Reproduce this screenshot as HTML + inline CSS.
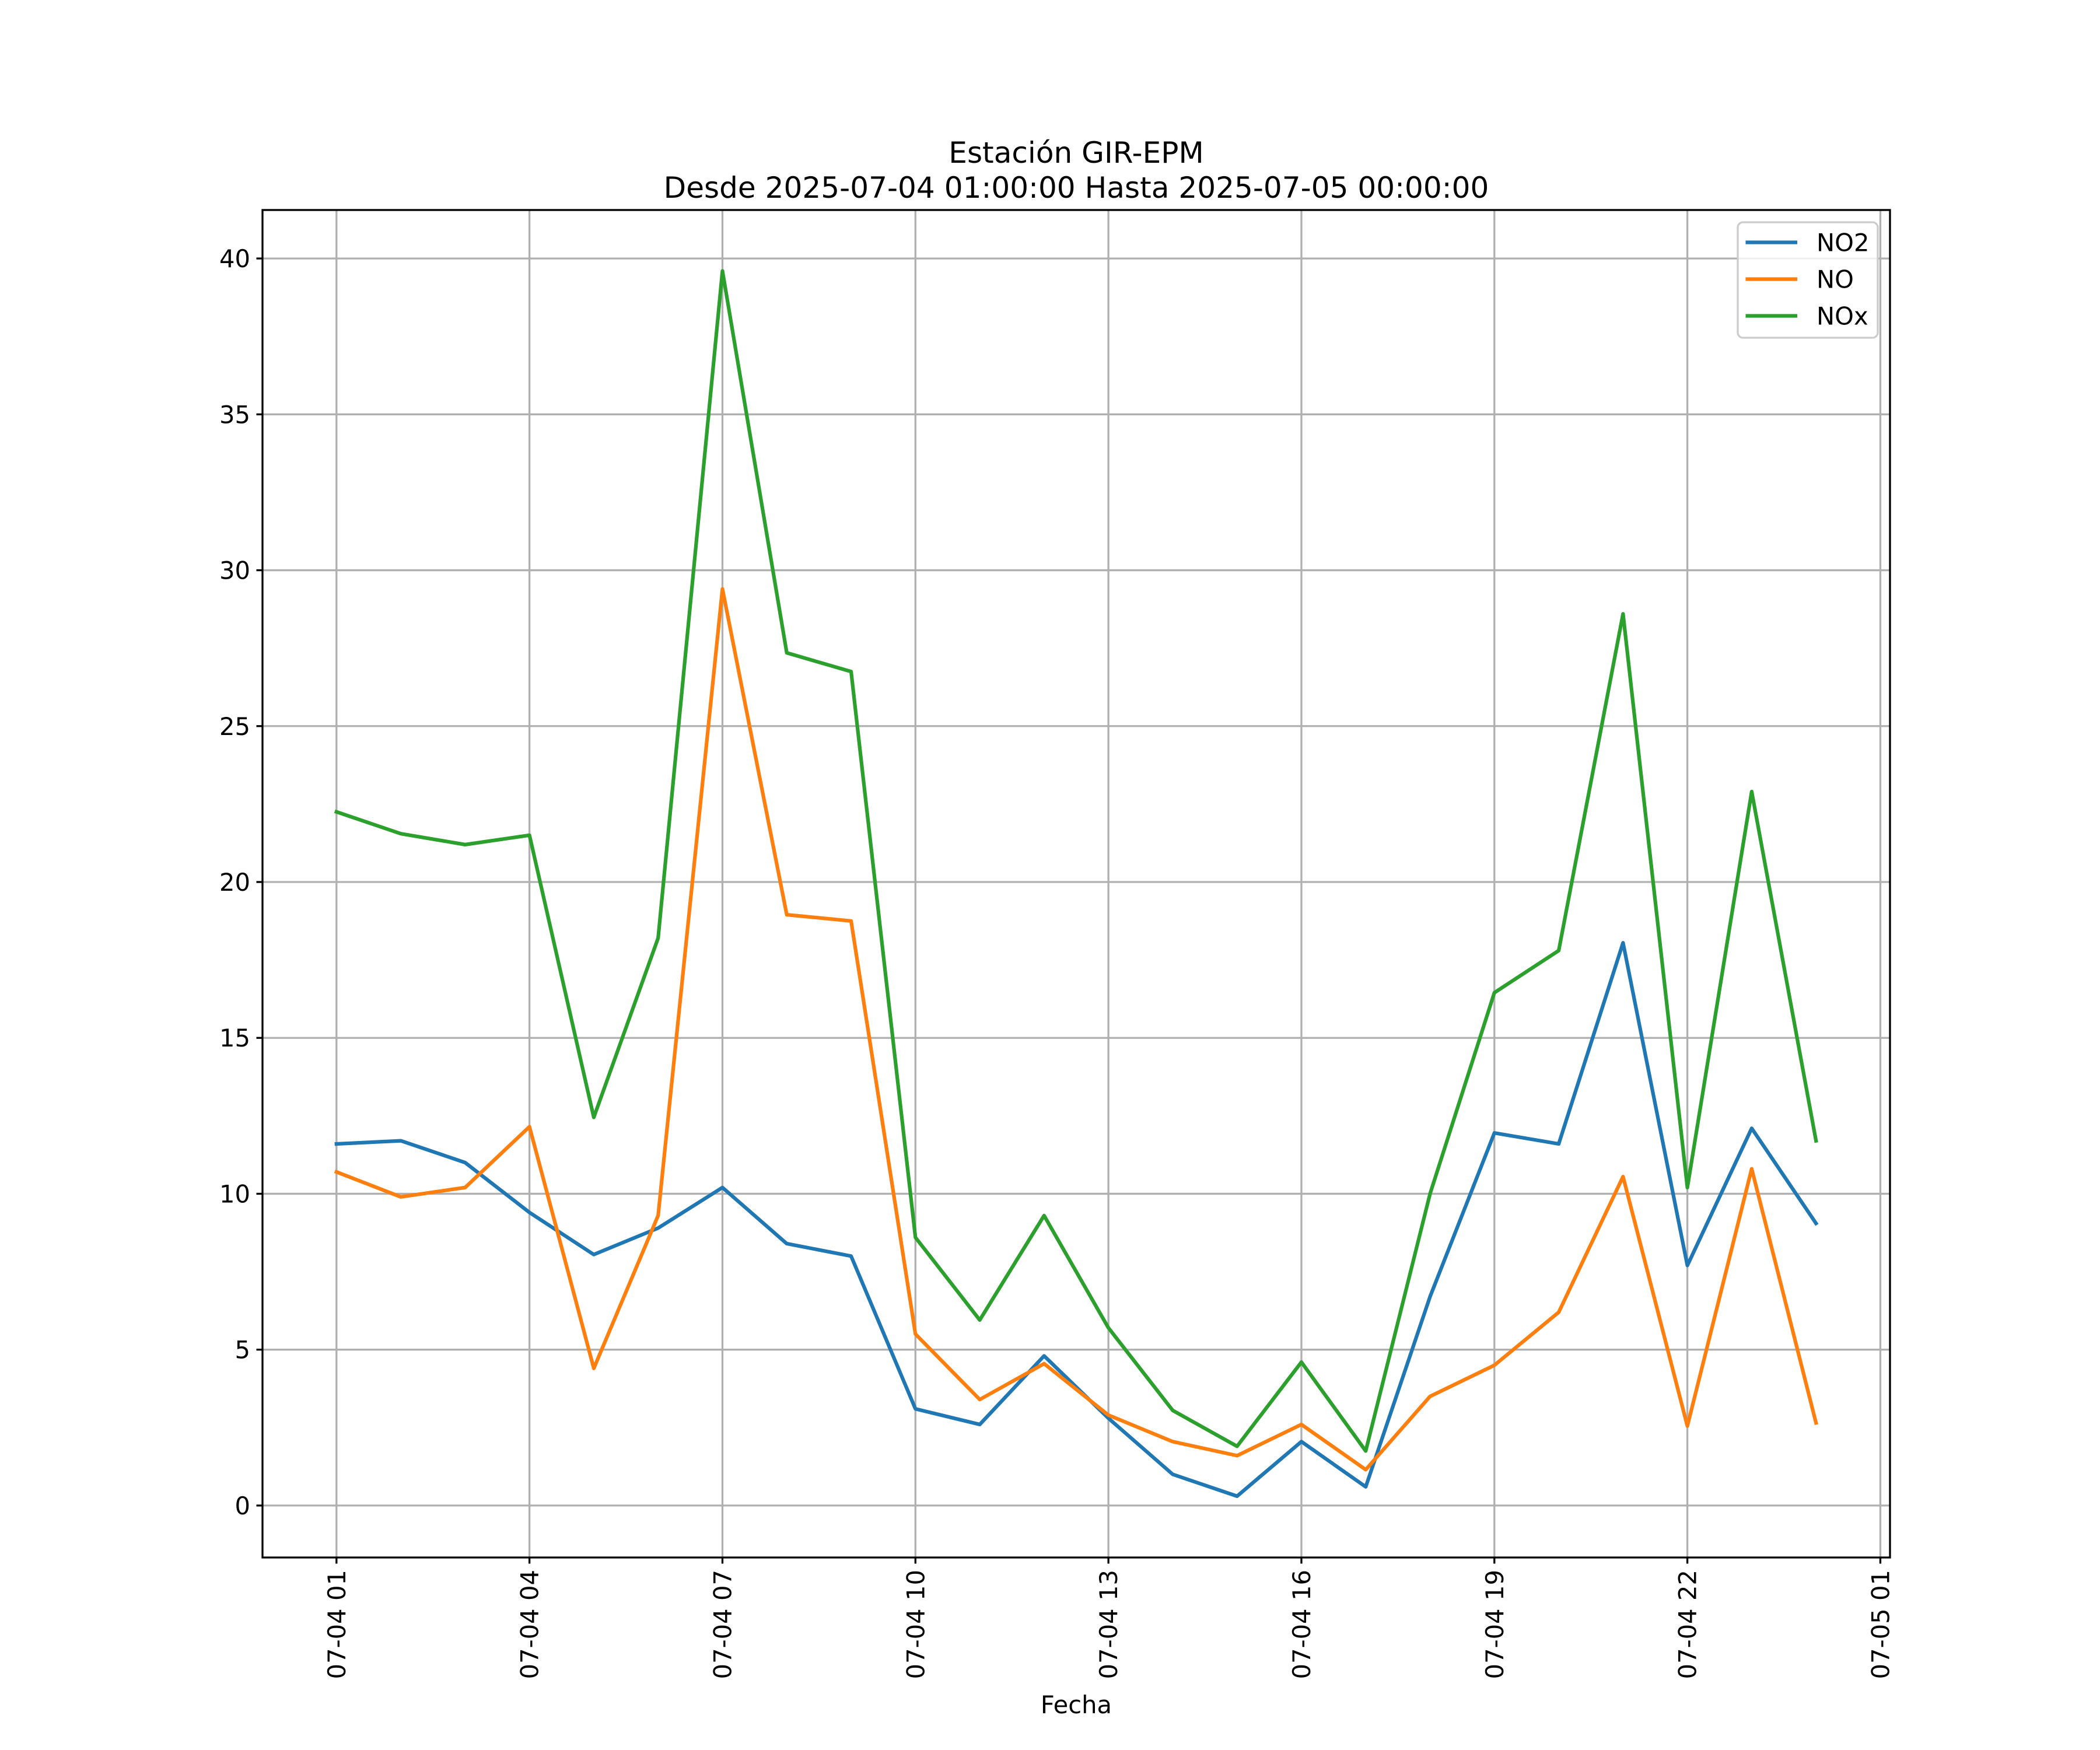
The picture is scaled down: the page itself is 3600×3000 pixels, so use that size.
<!DOCTYPE html>
<html><head><meta charset="utf-8"><style>html,body{margin:0;padding:0;background:#fff}svg{display:block}text{font-family:"DejaVu Sans","Liberation Sans",sans-serif;fill:#000}</style></head>
<body>
<svg id="chart" width="3600" height="3000" viewBox="0 0 1200 1000" xmlns="http://www.w3.org/2000/svg">
<rect width="1200" height="1000" fill="#fff"/>
<g id="grid"></g>
<g id="series"></g>
<rect x="150" y="120" width="930" height="770" fill="none" stroke="#000" stroke-width="1.1"/>
<g id="ticks"></g>
<text x="615" y="93" font-size="16.7" text-anchor="middle">Estación GIR-EPM</text>
<text x="615" y="113" font-size="16.7" text-anchor="middle">Desde 2025-07-04 01:00:00 Hasta 2025-07-05 00:00:00</text>
<text x="615" y="979" font-size="13.9" text-anchor="middle">Fecha</text>
<g>
<rect x="993" y="127" width="80" height="66" rx="3" fill="#fff" fill-opacity="0.8" stroke="#ccc" stroke-width="1.1"/>
<g><line x1="997.5" y1="138.5" x2="1027" y2="138.5" stroke="#1f77b4" stroke-width="2.08"/><text x="1038" y="143.5" font-size="13.9">NO2</text></g>
<g><line x1="997.5" y1="159.5" x2="1027" y2="159.5" stroke="#ff7f0e" stroke-width="2.08"/><text x="1038" y="164.5" font-size="13.9">NO</text></g>
<g><line x1="997.5" y1="180.5" x2="1027" y2="180.5" stroke="#2ca02c" stroke-width="2.08"/><text x="1038" y="185.5" font-size="13.9">NOx</text></g>
</g>
</svg>
<script>
const hours=[1,2,3,4,5,6,7,8,9,10,11,12,13,14,15,16,17,18,19,20,21,22,23,24];
const no2=[11.6,11.7,11.0,9.4,8.05,8.9,10.2,8.4,8.0,3.1,2.6,4.8,2.8,1.0,0.3,2.05,0.6,6.7,11.95,11.6,18.05,7.7,12.1,9.05];
const no=[10.7,9.9,10.2,12.15,4.4,9.3,29.4,18.95,18.75,5.5,3.4,4.55,2.9,2.05,1.6,2.6,1.15,3.5,4.5,6.2,10.55,2.55,10.8,2.65];
const nox=[22.25,21.55,21.2,21.5,12.45,18.2,39.6,27.35,26.75,8.6,5.95,9.3,5.7,3.05,1.9,4.6,1.75,10.0,16.45,17.8,28.6,10.2,22.9,11.7];
const yTicks=[0,5,10,15,20,25,30,35,40];
const xTicks=[1,4,7,10,13,16,19,22,25];
const xTickLabels=["07-04 01","07-04 04","07-04 07","07-04 10","07-04 13","07-04 16","07-04 19","07-04 22","07-05 01"];

const NS="http://www.w3.org/2000/svg";
const xmin=1-1.15, xmax=24+1.15;
function X(h){return 150+(h-xmin)/(xmax-xmin)*930;}
function Y(v){return 860.3-v*(860.3-147.7)/40;}
function mk(tag,attrs,parent){const e=document.createElementNS(NS,tag);for(const k in attrs)e.setAttribute(k,attrs[k]);parent.appendChild(e);return e;}
const grid=document.getElementById('grid'),ticks=document.getElementById('ticks'),series=document.getElementById('series');
yTicks.forEach(v=>{
  const y=Y(v);
  const g=mk('line',{x1:150,x2:1080,y1:y,y2:y,stroke:'#b0b0b0','stroke-width':1.1},grid);
  
  
  const t=mk('line',{x1:146.5,x2:150,y1:y,y2:y,stroke:'#000','stroke-width':1.1},ticks);
  
  
  const l=mk('text',{x:143,y:y+5,'font-size':13.9,'text-anchor':'end'},ticks);
  l.textContent=v;
  
  
});
xTicks.forEach((h,i)=>{
  const x=X(h);
  const g=mk('line',{x1:x,x2:x,y1:120,y2:890,stroke:'#b0b0b0','stroke-width':1.1},grid);
  
  
  const t=mk('line',{x1:x,x2:x,y1:890,y2:893.5,stroke:'#000','stroke-width':1.1},ticks);
  
  
  const l=mk('text',{x:0,y:0,'font-size':13.9,'text-anchor':'end',transform:`translate(${x+5},897) rotate(-90)`},ticks);
  l.textContent=xTickLabels[i];
  
  
});
[[no2,'#1f77b4','no2-line'],[no,'#ff7f0e','no-line'],[nox,'#2ca02c','nox-line']].forEach(([d,c,n])=>{
  const p=mk('polyline',{points:d.map((v,i)=>X(hours[i])+','+Y(v)).join(' '),fill:'none',stroke:c,'stroke-width':2.08,'stroke-linejoin':'round','stroke-linecap':'square'},series);
  
  
});
</script>
</body></html>
